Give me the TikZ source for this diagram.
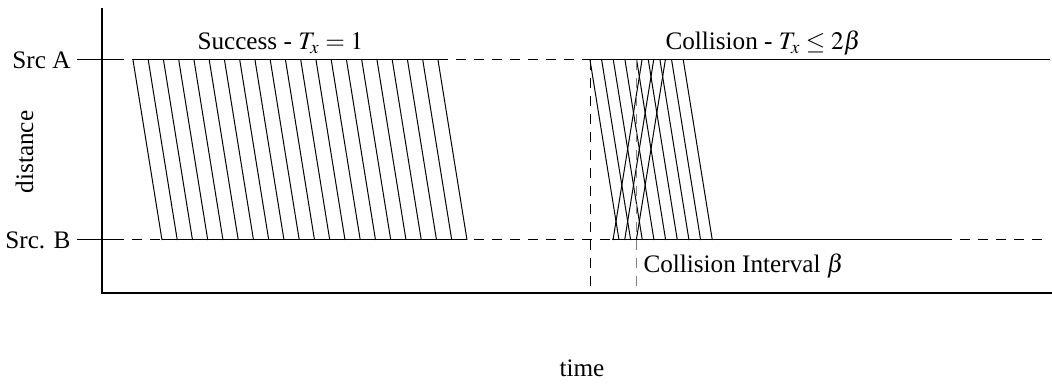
\documentclass[tikz,border=0pt]{standalone}
\usepackage{mathptmx}
\usepackage{fontspec}
\setmainfont{Liberation Serif}
\usetikzlibrary{positioning}

\begin{document}
\begin{tikzpicture}[x=0.5pt, y=0.5pt, line width=0.5pt,
    every node/.style={font=\fontsize{12.6}{15}\selectfont, inner sep=0pt},
    guide/.style={dash pattern=on 5pt off 4pt},
    frame/.style={line width=0.6pt}]

  \useasboundingbox (0,0) rectangle (1052,384);

  % axes
  \coordinate (O)    at (102,91);
  \coordinate (ytop) at (102,376);
  \coordinate (xend) at (1052,91);
  \draw[frame] (ytop) -- (O) -- (xend);

  % the two sources
  \coordinate (a0) at (77,324);
  \coordinate (a1) at (114,324);
  \coordinate (aEnd) at (1050,324);
  \coordinate (b0) at (77,144);
  \coordinate (b1) at (114,144);
  \coordinate (bEnd) at (1046,144);
  \node[left=3pt of a0] (srcA) {Src A};
  \node[left=3pt of b0] (srcB) {Src. B};
  \draw (a0) -- (a1);
  \draw (b0) -- (b1);
  \draw[guide] (a1) -- (aEnd);
  \draw[guide] (b1) -- (bEnd);

  \node[rotate=90, anchor=base] (dist) at (33,232) {distance};
  \node[anchor=base] (time) at (582,7) {time};

  % successful transmission
  \node[anchor=base west] (succ) at (197,334) {Success - $T_x = 1$};
  \draw (133,324) -- (438,324);
  \draw (162,144) -- (467,144);
  \foreach \i in {0,...,20}
    \draw (133+15.25*\i,324) -- (162+15.25*\i,144);

  % collision
  \node[anchor=base west] (coll) at (665,334) {Collision - $T_x \leq 2\beta$};
  \draw (590,324) -- (aEnd);
  \draw (612,144) -- (947,144);
  \foreach \i in {0,...,8}
    \draw (590+11.66*\i,324) -- (619+11.66*\i,144);
  \foreach \i in {0,1,2}
    \draw (613+11.66*\i,144) -- (642+11.66*\i,324);

  % collision interval
  \coordinate (c0) at (590,324);
  \coordinate (c1) at (636,324);
  \draw[guide] (c0) -- (c0 |- O);
  \draw[guide, gray] (c1) -- (c1 |- O);
  \node[anchor=base west] (intv) at (643,111) {Collision Interval $\beta$};

\end{tikzpicture}
\end{document}
